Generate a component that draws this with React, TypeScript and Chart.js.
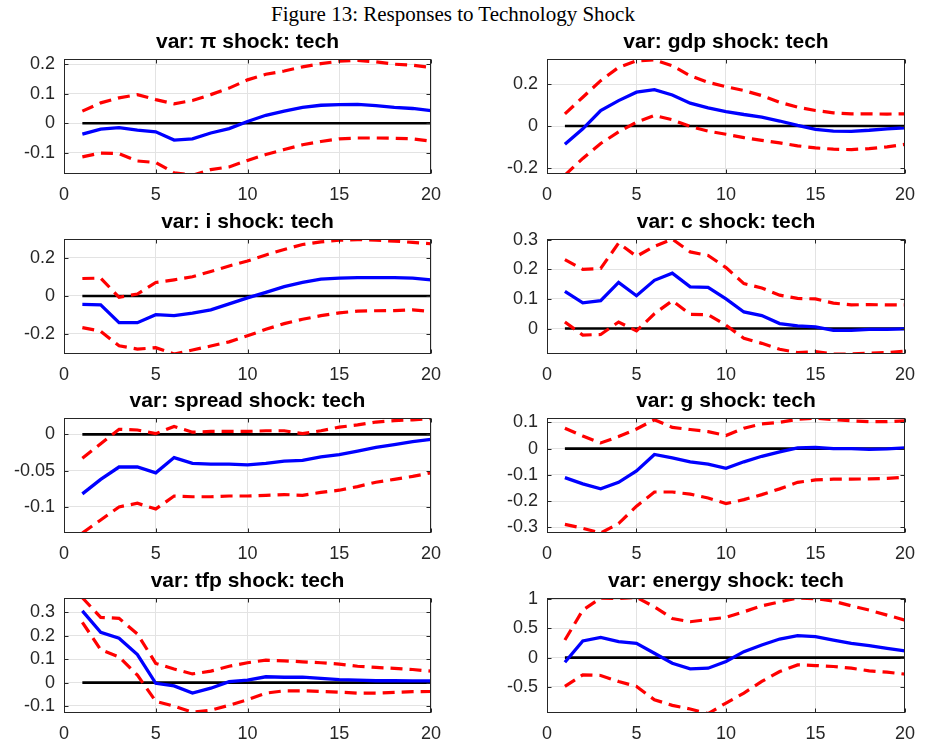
import React, { useEffect, useRef } from "react";
import { Chart, registerables } from "chart.js";

Chart.register(...registerables);

// ---------- DATA ----------
const figureTitle = "Figure 13: Responses to Technology Shock";
const horizon = [1, 2, 3, 4, 5, 6, 7, 8, 9, 10, 11, 12, 13, 14, 15, 16, 17, 18, 19, 20];
const zeroLine = [0, 0, 0, 0, 0, 0, 0, 0, 0, 0, 0, 0, 0, 0, 0, 0, 0, 0, 0, 0];
const xTicksStep = 5;

const piIrf = [-0.037, -0.02, -0.015, -0.023, -0.029, -0.057, -0.053, -0.033, -0.018, 0.006, 0.027, 0.041, 0.054, 0.061, 0.063, 0.064, 0.06, 0.054, 0.05, 0.043];
const piUpper = [0.041, 0.069, 0.086, 0.097, 0.08, 0.066, 0.077, 0.097, 0.119, 0.147, 0.166, 0.177, 0.191, 0.202, 0.21, 0.213, 0.208, 0.2, 0.197, 0.189];
const piLower = [-0.114, -0.101, -0.103, -0.128, -0.133, -0.168, -0.176, -0.157, -0.148, -0.126, -0.106, -0.089, -0.073, -0.062, -0.053, -0.05, -0.05, -0.051, -0.053, -0.061];

const gdpIrf = [-0.087, -0.013, 0.074, 0.121, 0.161, 0.173, 0.148, 0.109, 0.087, 0.069, 0.055, 0.043, 0.024, 0.003, -0.016, -0.024, -0.025, -0.02, -0.013, -0.008];
const gdpUpper = [0.058, 0.137, 0.216, 0.279, 0.31, 0.315, 0.287, 0.239, 0.208, 0.187, 0.169, 0.145, 0.113, 0.09, 0.074, 0.063, 0.058, 0.058, 0.057, 0.058];
const gdpLower = [-0.233, -0.154, -0.083, -0.028, 0.019, 0.05, 0.03, -0.002, -0.024, -0.039, -0.055, -0.068, -0.08, -0.094, -0.104, -0.11, -0.112, -0.107, -0.099, -0.087];

const iIrf = [-0.045, -0.047, -0.141, -0.141, -0.099, -0.104, -0.09, -0.073, -0.042, -0.01, 0.019, 0.049, 0.071, 0.089, 0.094, 0.097, 0.096, 0.096, 0.094, 0.085];
const iUpper = [0.092, 0.094, -0.007, 0.01, 0.071, 0.085, 0.101, 0.129, 0.158, 0.184, 0.216, 0.245, 0.271, 0.285, 0.294, 0.297, 0.294, 0.289, 0.282, 0.275];
const iLower = [-0.167, -0.186, -0.263, -0.28, -0.273, -0.306, -0.285, -0.264, -0.242, -0.21, -0.176, -0.146, -0.123, -0.104, -0.089, -0.08, -0.078, -0.077, -0.073, -0.082];

const cIrf = [0.126, 0.087, 0.094, 0.156, 0.111, 0.163, 0.187, 0.141, 0.139, 0.1, 0.056, 0.044, 0.017, 0.009, 0.006, -0.006, -0.006, -0.003, -0.003, -0.001];
const cUpper = [0.233, 0.2, 0.203, 0.289, 0.244, 0.278, 0.302, 0.259, 0.247, 0.206, 0.152, 0.137, 0.113, 0.102, 0.1, 0.086, 0.08, 0.081, 0.08, 0.08];
const cLower = [0.022, -0.022, -0.02, 0.022, -0.008, 0.05, 0.094, 0.048, 0.047, 0.011, -0.033, -0.05, -0.07, -0.081, -0.078, -0.086, -0.086, -0.083, -0.081, -0.076];

const spreadIrf = [-0.082, -0.062, -0.045, -0.045, -0.053, -0.032, -0.04, -0.041, -0.041, -0.042, -0.04, -0.037, -0.036, -0.031, -0.028, -0.023, -0.018, -0.014, -0.01, -0.007];
const spreadUpper = [-0.033, -0.013, 0.007, 0.006, 0.001, 0.011, 0.003, 0.004, 0.004, 0.004, 0.005, 0.005, 0.001, 0.005, 0.01, 0.013, 0.017, 0.019, 0.02, 0.022];
const spreadLower = [-0.136, -0.118, -0.1, -0.095, -0.103, -0.085, -0.086, -0.086, -0.085, -0.085, -0.084, -0.083, -0.084, -0.08, -0.077, -0.072, -0.066, -0.062, -0.058, -0.053];

const gIrf = [-0.11, -0.134, -0.153, -0.128, -0.085, -0.022, -0.035, -0.05, -0.059, -0.075, -0.05, -0.029, -0.012, 0.003, 0.005, 0.0, 0.0, -0.003, -0.001, 0.003];
const gUpper = [0.078, 0.048, 0.022, 0.046, 0.075, 0.11, 0.081, 0.073, 0.065, 0.05, 0.078, 0.094, 0.1, 0.112, 0.116, 0.11, 0.106, 0.103, 0.103, 0.106];
const gLower = [-0.288, -0.303, -0.321, -0.285, -0.219, -0.165, -0.165, -0.173, -0.188, -0.209, -0.194, -0.175, -0.153, -0.128, -0.119, -0.116, -0.116, -0.115, -0.113, -0.109];

const tfpIrf = [0.307, 0.215, 0.19, 0.12, -0.003, -0.014, -0.045, -0.024, 0.004, 0.011, 0.025, 0.023, 0.023, 0.018, 0.013, 0.011, 0.008, 0.008, 0.007, 0.007];
const tfpUpper = [0.363, 0.279, 0.275, 0.208, 0.082, 0.058, 0.037, 0.049, 0.07, 0.085, 0.096, 0.093, 0.089, 0.085, 0.079, 0.07, 0.065, 0.061, 0.056, 0.049];
const tfpLower = [0.258, 0.141, 0.11, 0.032, -0.08, -0.101, -0.127, -0.118, -0.097, -0.073, -0.045, -0.035, -0.035, -0.038, -0.041, -0.045, -0.045, -0.042, -0.039, -0.038];

const energyIrf = [-0.08, 0.284, 0.347, 0.273, 0.244, 0.074, -0.097, -0.193, -0.182, -0.068, 0.102, 0.216, 0.318, 0.375, 0.358, 0.301, 0.244, 0.205, 0.159, 0.114];
const energyUpper = [0.301, 0.813, 1.02, 1.01, 1.03, 0.869, 0.67, 0.614, 0.653, 0.688, 0.784, 0.886, 0.955, 1.02, 1.01, 0.966, 0.886, 0.813, 0.727, 0.642];
const energyLower = [-0.494, -0.295, -0.307, -0.409, -0.494, -0.722, -0.818, -0.881, -0.96, -0.778, -0.608, -0.409, -0.239, -0.125, -0.136, -0.153, -0.182, -0.227, -0.25, -0.284];

const panelTitles = [
  "var: π shock: tech",
  "var: gdp shock: tech",
  "var: i shock: tech",
  "var: c shock: tech",
  "var: spread shock: tech",
  "var: g shock: tech",
  "var: tfp shock: tech",
  "var: energy shock: tech",
];
const yMins = [-0.172, -0.228, -0.306, -0.086, -0.136, -0.321, -0.13, -0.949];
const yMaxs = [0.217, 0.318, 0.299, 0.302, 0.0223, 0.116, 0.361, 1.017];
const ySteps = [0.1, 0.2, 0.2, 0.1, 0.05, 0.1, 0.1, 0.5];
const irfs = [piIrf, gdpIrf, iIrf, cIrf, spreadIrf, gIrf, tfpIrf, energyIrf];
const uppers = [piUpper, gdpUpper, iUpper, cUpper, spreadUpper, gUpper, tfpUpper, energyUpper];
const lowers = [piLower, gdpLower, iLower, cLower, spreadLower, gLower, tfpLower, energyLower];

// ---------- LAYOUT ----------
const PLOT_H = 116;
const TITLE_BOX = 28;
const X_AXIS_H = 34;
const CANVAS_H = TITLE_BOX + PLOT_H + X_AXIS_H;
const rowPlotTops = [58, 238, 417, 597];
const cols = [
  { left: 0, width: 460, yAxisW: 64, rightPad: 29 },
  { left: 460, width: 465, yAxisW: 87, rightPad: 12 },
];

const AXIS_COLOR = "#262626";
const GRID_COLOR = "#e3e3e3";
const TICK_FONT = { family: "'Liberation Sans', Arial, sans-serif", size: 18 };

const boxPlugin = {
  id: "matlabBox",
  afterDatasetsDraw(chart: any) {
    const { ctx, chartArea } = chart;
    const l = Math.round(chartArea.left) + 0.5;
    const r = Math.round(chartArea.right) - 0.5;
    const t = Math.round(chartArea.top) + 0.5;
    const b = Math.round(chartArea.bottom) - 0.5;
    ctx.save();
    ctx.strokeStyle = AXIS_COLOR;
    ctx.lineWidth = 1;
    ctx.strokeRect(l, t, r - l, b - t);
    const tl = 4;
    ctx.beginPath();
    const xs = chart.scales.x;
    xs.ticks.forEach((tk: any) => {
      const px = Math.round(xs.getPixelForValue(tk.value)) + 0.5;
      ctx.moveTo(px, b);
      ctx.lineTo(px, b - tl);
      ctx.moveTo(px, t);
      ctx.lineTo(px, t + tl);
    });
    const ys = chart.scales.y;
    ys.ticks.forEach((tk: any) => {
      const py = Math.round(ys.getPixelForValue(tk.value)) + 0.5;
      ctx.moveTo(l, py);
      ctx.lineTo(l + tl, py);
      ctx.moveTo(r, py);
      ctx.lineTo(r - tl, py);
    });
    ctx.stroke();
    ctx.restore();
  },
};

function fmt(v: number) {
  const r = Math.round(v * 1000) / 1000;
  return String(r === 0 ? 0 : r);
}

type PanelProps = { index: number };

function Panel({ index }: PanelProps) {
  const ref = useRef<HTMLCanvasElement | null>(null);
  const col = cols[index % 2];
  const top = rowPlotTops[Math.floor(index / 2)] - TITLE_BOX;

  useEffect(() => {
    if (!ref.current) return;
    const toPts = (arr: number[]) => arr.map((y, i) => ({ x: horizon[i], y }));
    const dashed = {
      borderColor: "#ff0000",
      borderWidth: 3.2,
      borderDash: [12, 7],
      pointRadius: 0,
      tension: 0,
      clip: 0,
    };
    const chart = new Chart(ref.current, {
      type: "line",
      data: {
        datasets: [
          { ...dashed, data: toPts(uppers[index]) },
          { ...dashed, data: toPts(lowers[index]) },
          {
            data: toPts(irfs[index]),
            borderColor: "#0000ff",
            borderWidth: 3.3,
            pointRadius: 0,
            tension: 0,
            clip: 0,
          },
          {
            data: toPts(zeroLine),
            borderColor: "#000000",
            borderWidth: 2.6,
            pointRadius: 0,
            tension: 0,
            clip: 0,
          },
        ],
      },
      options: {
        animation: false,
        responsive: false,
        devicePixelRatio: 1,
        events: [],
        layout: { padding: { left: 0, right: col.rightPad, top: 0, bottom: 0 } },
        plugins: {
          legend: { display: false },
          tooltip: { enabled: false },
          title: {
            display: true,
            text: panelTitles[index],
            color: "#000000",
            fullSize: false,
            font: { family: "'Liberation Sans', Arial, sans-serif", size: 21, weight: "bold" },
            padding: { top: 0, bottom: 4 },
          },
        },
        scales: {
          x: {
            type: "linear",
            min: 0,
            max: 20,
            ticks: {
              stepSize: xTicksStep,
              color: AXIS_COLOR,
              font: TICK_FONT,
              padding: 10,
              maxRotation: 0,
              autoSkip: false,
              callback: (v: any) => fmt(Number(v)),
            },
            grid: { color: GRID_COLOR, drawTicks: false, lineWidth: 1 },
            border: { display: false },
            afterFit: (s: any) => {
              s.height = X_AXIS_H;
            },
          },
          y: {
            type: "linear",
            min: yMins[index],
            max: yMaxs[index],
            ticks: {
              stepSize: ySteps[index],
              includeBounds: false,
              color: AXIS_COLOR,
              font: TICK_FONT,
              padding: 9,
              autoSkip: false,
              callback: (v: any) => fmt(Number(v)),
            },
            grid: { color: GRID_COLOR, drawTicks: false, lineWidth: 1 },
            border: { display: false },
            afterFit: (s: any) => {
              s.width = col.yAxisW;
            },
          },
        },
      },
      plugins: [boxPlugin],
    } as any);
    return () => chart.destroy();
  }, [index]);

  return (
    <canvas
      ref={ref}
      width={col.width}
      height={CANVAS_H}
      style={{ position: "absolute", left: col.left, top, width: col.width, height: CANVAS_H }}
    />
  );
}

export default function App() {
  return (
    <div
      style={{
        position: "absolute",
        left: 0,
        top: 0,
        width: 925,
        height: 747,
        background: "#ffffff",
        overflow: "hidden",
      }}
    >
      <div
        style={{
          position: "absolute",
          left: 0,
          top: 0,
          width: 906,
          textAlign: "center",
          fontFamily: "'Liberation Serif', 'Times New Roman', serif",
          fontSize: 21,
          lineHeight: "28px",
          color: "#000",
        }}
      >
        {figureTitle}
      </div>
      {panelTitles.map((_, i) => (
        <Panel key={i} index={i} />
      ))}
    </div>
  );
}
